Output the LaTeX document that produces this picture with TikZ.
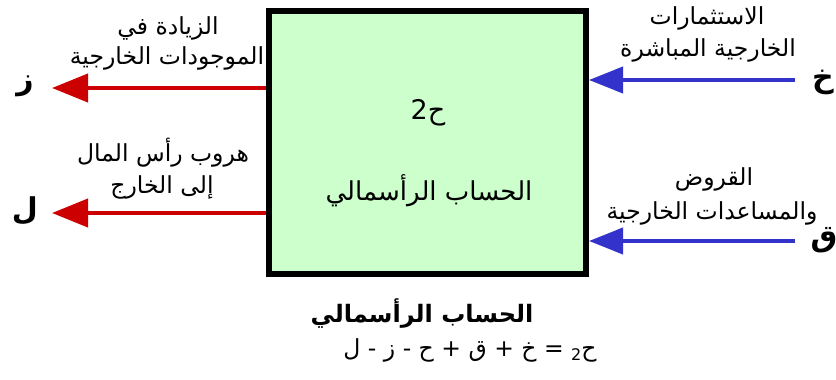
\documentclass[tikz,border=0pt]{standalone}
\usepackage{fontspec}
\setmainfont{DejaVu Sans}
\newfontfamily\arabicfont[Script=Arabic]{DejaVu Sans}
\TeXXeTstate=1
\usetikzlibrary{arrows.meta}
\definecolor{boxgreen}{RGB}{204,255,204}
\definecolor{arrred}{RGB}{204,0,0}
\definecolor{arrblue}{RGB}{51,51,204}
\newcommand\artxt[1]{\beginR #1\endR}
\begin{document}
\begin{tikzpicture}[x=1pt,y=-1pt,
  lbl/.style={font=\arabicfont\fontsize{23.5}{26}\selectfont, inner sep=0pt},
  letter/.style={font=\arabicfont\bfseries\fontsize{30}{32}\selectfont, inner sep=0pt},
  title/.style={font=\arabicfont\bfseries\fontsize{24}{28}\selectfont, inner sep=0pt},
  mainbox/.style={draw=black, line width=6pt, fill=boxgreen, minimum width=317pt, minimum height=263pt, inner sep=0pt},
  redarrow/.style={draw=arrred, line width=4pt, -{Triangle[length=36pt,width=28pt]}},
  bluearrow/.style={draw=arrblue, line width=4pt, -{Triangle[length=34pt,width=26pt]}}]
\useasboundingbox (0,0) rectangle (836,380);
% main box
\node[mainbox] (box) at (427.5,142.5) {};
\node[lbl, font=\arabicfont\fontsize{27}{30}\selectfont] (h2) at (428,113) {\artxt{ح2}};
\node[lbl, font=\arabicfont\fontsize{26}{30}\selectfont] (boxname) at (429,191) {\artxt{الحساب الرأسمالي}};
% letters
\node[letter] (z) at (25,86) {\artxt{ز}};
\node[letter] (l) at (25,211) {\artxt{ل}};
\node[letter] (kh) at (823,82) {\artxt{خ}};
\node[letter] (q) at (824,240) {\artxt{ق}};
% arrow ends
\coordinate (ztip) at (52,88);
\coordinate (ltip) at (52,213);
\coordinate (khstart) at (795,80);
\coordinate (qstart) at (795,241);
\draw[redarrow] (box.west |- ztip) -- (ztip);
\draw[redarrow] (box.west |- ltip) -- (ltip);
\draw[bluearrow] (khstart) -- (box.east |- khstart);
\draw[bluearrow] (qstart) -- (box.east |- qstart);
% labels
\node[lbl] (t1a) at (168,28) {\artxt{الزيادة في}};
\node[lbl] (t1b) at (167,58) {\artxt{الموجودات الخارجية}};
\node[lbl] (t2a) at (163,153) {\artxt{هروب رأس المال}};
\node[lbl] (t2b) at (162,187) {\artxt{إلى الخارج}};
\node[lbl] (t3a) at (707,18) {\artxt{الاستثمارات}};
\node[lbl] (t3b) at (708,50) {\artxt{الخارجية المباشرة}};
\node[lbl] (t4a) at (714,179) {\artxt{القروض}};
\node[lbl] (t4b) at (712,213) {\artxt{والمساعدات الخارجية}};
% bottom
\node[title] (ttl) at (422,314) {\artxt{الحساب الرأسمالي}};
\node[lbl, font=\arabicfont\fontsize{23.5}{28}\selectfont] (eq) at (470,350) {\artxt{ح\raisebox{-0.35ex}{\fontsize{16}{18}\selectfont 2} = خ + ق + ح - ز - ل}};
\end{tikzpicture}
\end{document}
